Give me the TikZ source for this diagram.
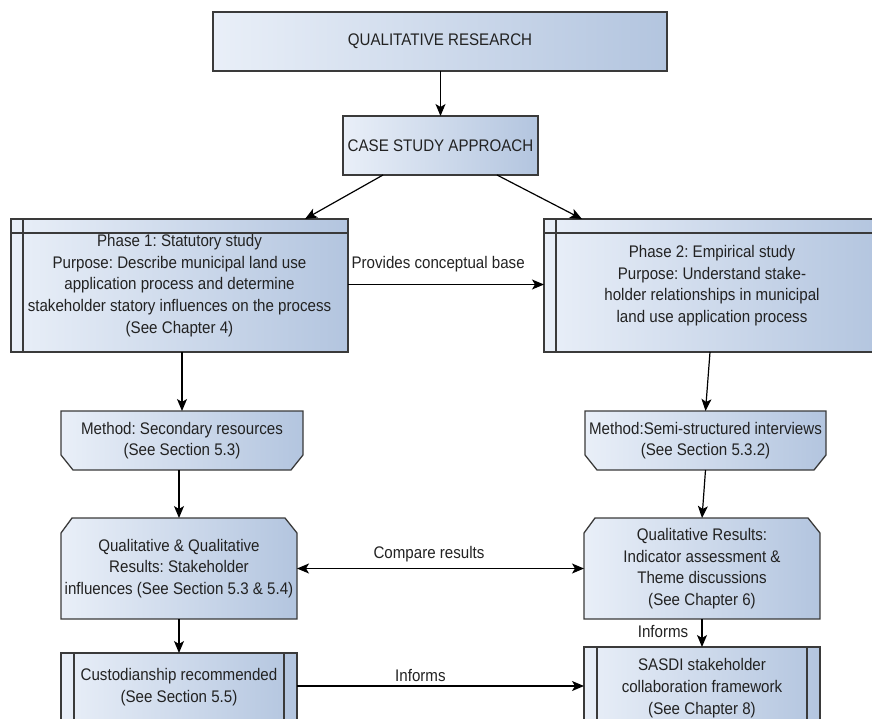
\documentclass[tikz,border=0pt]{standalone}
\usepackage{fontspec}
\setmainfont{Liberation Sans}[FakeStretch=0.9]
\usetikzlibrary{arrows.meta,calc,backgrounds}
\frenchspacing

\definecolor{boxleft}{HTML}{E9EFF8}
\definecolor{boxright}{HTML}{B3C5DF}
\definecolor{edgegrey}{HTML}{3A3A3A}
\definecolor{inkgrey}{HTML}{222222}

\tikzset{
  txt/.style={align=center, inner sep=0pt, outer sep=0pt, text=inkgrey,
    font=\fontsize{16.8}{21.7}\selectfont},
  boxfill/.style={draw=edgegrey, line width=1.3pt, left color=boxleft, right color=boxright},
  plainbox/.style={txt, boxfill},
  innerline/.style={draw=edgegrey, line width=1.2pt},
  link/.style={draw=black, line width=1.2pt, -{Stealth[length=12pt,width=10pt,inset=3pt]}},
  twolink/.style={draw=black, line width=1.2pt, {Stealth[length=12pt,width=10pt,inset=3pt]}-{Stealth[length=12pt,width=10pt,inset=3pt]}},
  tag/.style={inner sep=0pt, text=inkgrey, font=\fontsize{16.8}{21.7}\selectfont}
}

\begin{document}
\begin{tikzpicture}[x=1pt,y=-1pt]
\useasboundingbox (0,0) rectangle (872,718);
\clip (0,0) rectangle (872,718);

% top-level boxes
\node[plainbox, minimum width=454pt, minimum height=59pt] (qr) at (440,41.5) {QUALITATIVE RESEARCH};
\node[plainbox, minimum width=195pt, minimum height=59pt] (csa) at (440.5,145.5) {CASE STUDY APPROACH};

% phase boxes with a header band and a side strip
\node[plainbox, minimum width=337pt, minimum height=133pt] (p1) at (179.5,285.5)
  {Phase 1: Statutory study\\Purpose: Describe municipal land use\\application process and determine\\stakeholder statory influences on the process\\(See Chapter 4)};
\draw[innerline] ($(p1.north west)+(0,14)$) -- ($(p1.north east)+(0,14)$);
\draw[innerline] ($(p1.north west)+(12,0)$) -- ($(p1.south west)+(12,0)$);

\node[plainbox, minimum width=336pt, minimum height=133pt] (p2) at (712,285.5)
  {Phase 2: Empirical study\\Purpose: Understand stake-\\holder relationships in municipal\\land use application process};
\draw[innerline] ($(p2.north west)+(0,14)$) -- ($(p2.north east)+(0,14)$);
\draw[innerline] ($(p2.north west)+(12,0)$) -- ($(p2.south west)+(12,0)$);

% method boxes (bottom corners cut)
\node[txt, minimum width=242pt, minimum height=59pt] (ml) at (182,440.5)
  {Method: Secondary resources\\(See Section 5.3)};
\node[txt, minimum width=241pt, minimum height=59pt] (mr) at (705.5,440.5)
  {Method:Semi-structured interviews\\(See Section 5.3.2)};

% result boxes (top corners cut)
\node[txt, minimum width=236pt, minimum height=101pt] (rl) at (179,568.5)
  {Qualitative \& Qualitative\\Results: Stakeholder\\influences (See Section 5.3 \& 5.4)};
\node[txt, minimum width=236pt, minimum height=101pt] (rr) at (702,568.5)
  {Qualitative Results:\\Indicator assessment \&\\Theme discussions\\(See Chapter 6)};

\begin{scope}[on background layer]
  \foreach \n in {ml,mr}{
    \path[boxfill] (\n.north west) -- (\n.north east) -- ($(\n.south east)+(0,-15)$)
      -- ($(\n.south east)+(-12,0)$) -- ($(\n.south west)+(12,0)$)
      -- ($(\n.south west)+(0,-15)$) -- cycle;
  }
  \foreach \n in {rl,rr}{
    \path[boxfill] ($(\n.north west)+(11,0)$) -- ($(\n.north east)+(-12,0)$)
      -- ($(\n.north east)+(0,15)$) -- (\n.south east) -- (\n.south west)
      -- ($(\n.north west)+(0,15)$) -- cycle;
  }
\end{scope}

% outcome boxes with double side bars
\node[plainbox, minimum width=236pt, minimum height=68pt] (cu) at (179,687)
  {Custodianship recommended\\(See Section 5.5)};
\draw[innerline] ($(cu.north west)+(13,0)$) -- ($(cu.south west)+(13,0)$);
\draw[innerline] ($(cu.north east)+(-13,0)$) -- ($(cu.south east)+(-13,0)$);

\node[plainbox, minimum width=236pt, minimum height=82pt] (sa) at (702,688)
  {SASDI stakeholder\\collaboration framework\\(See Chapter 8)};
\draw[innerline] ($(sa.north west)+(13,0)$) -- ($(sa.south west)+(13,0)$);
\draw[innerline] ($(sa.north east)+(-13,0)$) -- ($(sa.south east)+(-13,0)$);

% connectors
\draw[link] (qr.south -| csa.north) -- (csa.north);
\draw[link] ($(csa.south west)+(40,0)$) -- ($(p1.north east)+(-43,0)$);
\draw[link] ($(csa.south east)+(-41,0)$) -- ($(p2.north west)+(38,0)$);
\draw[link] ($(p1.east)+(0,-1)$) -- ($(p2.west)+(0,-1)$)
  node[tag, pos=0.46, yshift=20pt] {Provides conceptual base};
\draw[link] (ml.north |- p1.south) -- (ml.north);
\draw[link] ($(p2.south)+(-2,0)$) -- (mr.north);
\draw[link] (rl.north |- ml.south) -- (rl.north);
\draw[link] (mr.south) -- (rr.north);
\draw[twolink] (rl.east) -- (rr.west)
  node[tag, pos=0.46, yshift=14pt] {Compare results};
\draw[link] (cu.north |- rl.south) -- (cu.north);
\draw[link] (sa.north |- rr.south) -- (sa.north)
  node[tag, pos=0.45, xshift=-39pt] {Informs};
\draw[link] ($(cu.east)+(0,-1)$) -- ($(sa.west |- cu.east)+(0,-1)$)
  node[tag, pos=0.43, yshift=11pt] {Informs};
\end{tikzpicture}
\end{document}
